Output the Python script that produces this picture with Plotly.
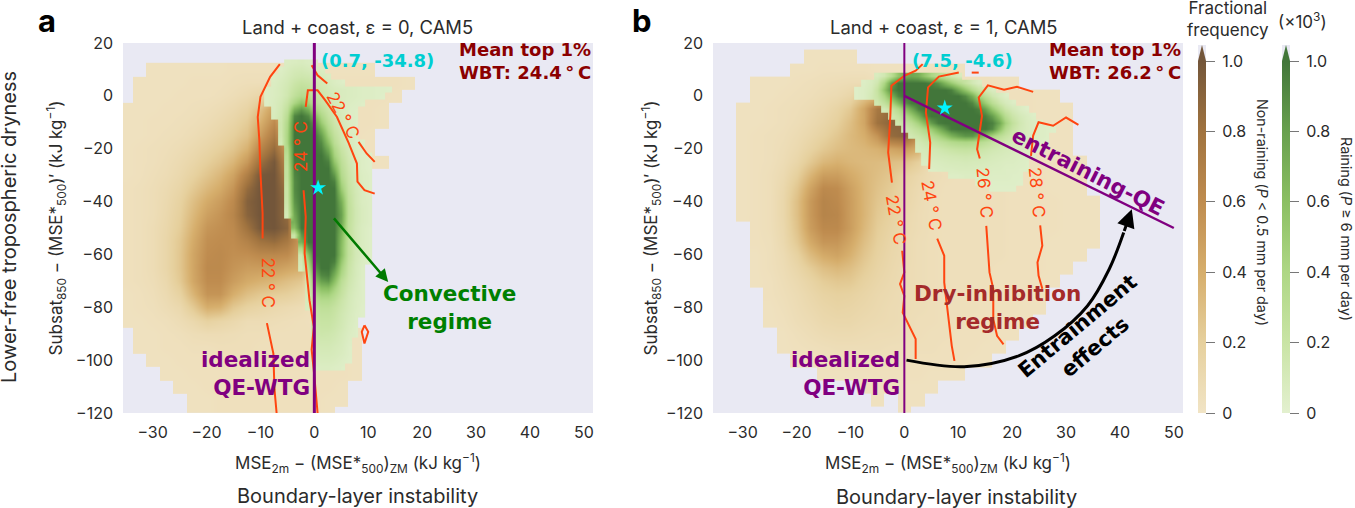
import numpy as np
import plotly.graph_objects as go

W, H = 1355, 508

# frequency, in hundredths of the colour bar unit (0 = no data)
# rows run from the top of the panel down, short rows are blank to the right
X_A = [-35 + 2.5 * i for i in range(22)]
Y_A = [10 - 5 * i for i in range(27)]
X_B = [-35 + 2.5 * i for i in range(30)]
Y_B = [15 - 5 * i for i in range(28)]
X_GREEN_A = [-10 + 1.25 * i for i in range(20)]
Y_GREEN_A = [12.5 - 2.5 * i for i in range(48)]
X_GREEN_B = [-10 + 1.25 * i for i in range(33)]
Y_GREEN_B = [7.5 - 2.5 * i for i in range(18)]

TAN_A = [
    [0, 0, 3, 3, 3, 3, 3, 3, 4, 4, 4, 4, 4, 4, 3, 3, 3, 3, 3],
    [0, 3, 3, 3, 3, 4, 4, 4, 5, 6, 6, 6, 5, 4, 4, 4, 4, 4, 4, 4, 4, 3],
    [0, 3, 3, 3, 4, 4, 4, 5, 7, 10, 14, 20, 5, 4, 4, 4, 4, 4, 4, 4, 3],
    [3, 3, 3, 4, 4, 5, 6, 8, 11, 16, 28, 50, 20, 4, 4, 4, 4, 4, 4, 3],
    [3, 3, 4, 4, 5, 6, 8, 11, 15, 22, 38, 60, 30, 4, 4, 4, 4, 4, 4, 3],
    [3, 3, 4, 5, 6, 8, 11, 15, 20, 28, 50, 72, 40, 4, 4, 4, 4, 4, 3],
    [3, 4, 5, 6, 8, 11, 15, 20, 26, 38, 65, 85, 50, 4, 4, 4, 4, 4, 3],
    [3, 4, 5, 7, 10, 14, 20, 26, 35, 52, 82, 98, 60, 4, 4, 4, 4, 4, 3, 3],
    [3, 4, 6, 8, 12, 18, 26, 34, 46, 70, 98, 100, 70, 4, 4, 4, 4, 4],
    [4, 5, 7, 10, 15, 24, 34, 42, 55, 85, 100, 100, 80, 4, 4, 4, 4],
    [4, 5, 7, 11, 18, 30, 42, 50, 62, 92, 100, 100, 85, 4, 4, 4, 4],
    [4, 5, 7, 12, 20, 34, 48, 55, 65, 90, 100, 100, 85, 4, 4, 4, 4],
    [4, 5, 8, 13, 22, 38, 54, 58, 62, 80, 98, 100, 90, 4, 4, 4, 4],
    [4, 5, 8, 14, 25, 42, 58, 60, 60, 68, 80, 85, 75, 50, 4, 4, 4],
    [4, 5, 8, 14, 26, 45, 60, 62, 58, 58, 62, 62, 60, 45, 4, 4, 4],
    [4, 5, 8, 14, 26, 45, 62, 62, 55, 50, 50, 50, 45, 40, 4, 4, 4],
    [4, 5, 7, 12, 24, 44, 60, 60, 50, 42, 38, 35, 30, 25, 4, 4, 4],
    [3, 4, 6, 10, 18, 36, 55, 55, 40, 30, 25, 22, 20, 15, 4, 4, 4],
    [3, 4, 5, 8, 12, 24, 40, 38, 25, 18, 15, 12, 10, 8, 4, 4, 4],
    [3, 3, 4, 5, 8, 12, 18, 15, 12, 8, 8, 7, 6, 5, 4, 4, 4],
    [0, 3, 3, 4, 5, 7, 8, 8, 7, 6, 6, 5, 5, 5, 5, 5, 4, 3],
    [0, 3, 3, 4, 4, 5, 5, 6, 6, 6, 5, 5, 5, 5, 5, 5, 4, 3],
    [0, 0, 3, 3, 4, 4, 4, 5, 5, 5, 5, 5, 5, 5, 4, 4, 4, 3],
    [0, 0, 0, 3, 3, 4, 4, 4, 4, 4, 4, 4, 4, 4, 4, 4, 4, 3],
    [0, 0, 0, 0, 3, 3, 4, 4, 4, 4, 4, 4, 4, 4, 4, 4, 3],
    [0, 0, 0, 0, 0, 3, 3, 4, 4, 4, 4, 4, 4, 4, 4, 3, 3],
    [0, 0, 0, 0, 0, 3, 3, 4, 4, 4, 4, 4, 4, 4, 4, 3],
]
GREEN_A = [
    [0, 0, 0, 0, 6, 7, 8, 6, 5],
    [0, 0, 0, 5, 8, 11, 12, 10, 8, 6],
    [0, 0, 5, 7, 10, 14, 16, 15, 12, 9, 6],
    [0, 0, 6, 9, 12, 18, 22, 20, 16, 12, 9, 6, 4],
    [0, 5, 7, 10, 14, 22, 28, 26, 20, 15, 11, 9, 8, 7, 6, 5, 5, 4, 4, 3],
    [0, 5, 7, 10, 15, 26, 35, 32, 24, 17, 12, 10, 8, 7, 6, 5, 5, 4, 3],
    [0, 5, 8, 12, 20, 40, 55, 45, 30, 20, 14, 11, 8, 6, 5, 4],
    [0, 0, 8, 14, 26, 70, 85, 70, 45, 28, 18, 12, 8, 5, 4],
    [0, 0, 9, 15, 32, 92, 100, 90, 65, 38, 22, 14, 9, 5, 4],
    [0, 0, 0, 16, 38, 98, 100, 100, 85, 50, 28, 17, 10, 6, 4],
    [0, 0, 0, 16, 40, 100, 100, 100, 95, 65, 35, 20, 12, 6, 4],
    [0, 0, 0, 15, 42, 100, 100, 100, 100, 80, 45, 25, 14, 8, 5],
    [0, 0, 0, 12, 42, 100, 100, 100, 100, 90, 58, 30, 16, 9, 5, 3],
    [0, 0, 0, 0, 35, 100, 100, 100, 100, 95, 72, 38, 20, 11, 6, 4],
    [0, 0, 0, 0, 30, 100, 100, 100, 100, 100, 85, 45, 24, 13, 7, 4, 3],
    [0, 0, 0, 0, 28, 98, 100, 100, 100, 100, 95, 55, 28, 15, 8, 5, 3],
    [0, 0, 0, 0, 25, 95, 100, 100, 100, 100, 100, 70, 32, 17, 9, 5, 3],
    [0, 0, 0, 0, 25, 92, 100, 100, 100, 100, 100, 85, 36, 19, 10, 6, 4],
    [0, 0, 0, 0, 22, 90, 100, 100, 100, 100, 100, 95, 42, 20, 11, 6, 4],
    [0, 0, 0, 0, 20, 90, 100, 100, 100, 100, 100, 100, 50, 22, 12, 7, 4],
    [0, 0, 0, 0, 20, 88, 100, 100, 100, 100, 100, 100, 60, 24, 13, 7, 4],
    [0, 0, 0, 0, 18, 85, 100, 100, 100, 100, 100, 100, 70, 26, 13, 7, 5],
    [0, 0, 0, 0, 15, 80, 100, 100, 100, 100, 100, 100, 75, 27, 14, 8, 5],
    [0, 0, 0, 0, 12, 75, 100, 100, 100, 100, 100, 100, 78, 27, 14, 8, 5],
    [0, 0, 0, 0, 0, 70, 100, 100, 100, 100, 100, 100, 75, 26, 14, 8, 5],
    [0, 0, 0, 0, 0, 60, 100, 100, 100, 100, 100, 100, 70, 25, 13, 7, 4],
    [0, 0, 0, 0, 0, 20, 85, 100, 100, 100, 100, 100, 65, 25, 13, 7, 4],
    [0, 0, 0, 0, 0, 0, 70, 100, 100, 100, 100, 100, 62, 25, 13, 7, 4],
    [0, 0, 0, 0, 0, 0, 40, 85, 100, 100, 100, 100, 60, 25, 12, 7, 4],
    [0, 0, 0, 0, 0, 0, 15, 60, 100, 100, 100, 100, 60, 25, 12, 7, 4],
    [0, 0, 0, 0, 0, 0, 12, 45, 95, 100, 100, 95, 52, 22, 11, 6, 3],
    [0, 0, 0, 0, 0, 0, 10, 35, 85, 100, 100, 85, 45, 20, 10, 5],
    [0, 0, 0, 0, 0, 0, 0, 22, 72, 92, 95, 72, 38, 18, 10, 5],
    [0, 0, 0, 0, 0, 0, 0, 15, 60, 80, 85, 60, 30, 16, 9, 4],
    [0, 0, 0, 0, 0, 0, 0, 12, 45, 60, 62, 45, 25, 14, 8, 4],
    [0, 0, 0, 0, 0, 0, 0, 10, 35, 45, 45, 35, 22, 12, 7, 4],
    [0, 0, 0, 0, 0, 0, 0, 9, 28, 34, 34, 28, 18, 11, 6, 4],
    [0, 0, 0, 0, 0, 0, 0, 8, 22, 27, 27, 22, 16, 10, 6, 3],
    [0, 0, 0, 0, 0, 0, 0, 0, 20, 24, 24, 20, 14, 9, 5, 3],
    [0, 0, 0, 0, 0, 0, 0, 0, 18, 21, 21, 18, 13, 8, 5],
    [0, 0, 0, 0, 0, 0, 0, 0, 16, 19, 19, 16, 12, 7, 4],
    [0, 0, 0, 0, 0, 0, 0, 0, 15, 17, 16, 14, 10, 6, 4],
    [0, 0, 0, 0, 0, 0, 0, 0, 13, 14, 14, 12, 9, 5],
    [0, 0, 0, 0, 0, 0, 0, 0, 11, 12, 12, 10, 8, 4],
    [0, 0, 0, 0, 0, 0, 0, 0, 9, 10, 10, 9, 7, 4],
    [0, 0, 0, 0, 0, 0, 0, 0, 7, 8, 8, 7, 5, 3],
    [0, 0, 0, 0, 0, 0, 0, 0, 5, 6, 6, 5, 4],
    [],
]
TAN_B = [
    [0, 0, 0, 0, 0, 0, 0, 3, 3, 3, 3],
    [0, 0, 0, 0, 0, 0, 3, 3, 4, 4, 4, 4, 3, 3, 3, 3, 3, 3, 3],
    [0, 0, 0, 3, 3, 3, 4, 5, 6, 7, 8, 8, 5, 4, 4, 4, 4, 4, 4, 4, 4, 3, 3],
    [0, 0, 0, 3, 3, 4, 5, 6, 8, 10, 14, 25, 30, 4, 4, 4, 4, 4, 4, 4, 4, 4, 4, 4, 3, 3],
    [0, 0, 3, 3, 4, 5, 6, 8, 11, 16, 24, 45, 75, 85, 4, 4, 4, 4, 4, 4, 4, 4, 4, 4, 3, 3, 3],
    [0, 0, 3, 3, 4, 5, 7, 10, 14, 20, 30, 45, 80, 90, 90, 4, 4, 4, 4, 4, 4, 4, 4, 4, 3, 3, 3],
    [0, 0, 3, 4, 5, 6, 9, 13, 18, 25, 33, 40, 55, 85, 90, 60, 4, 4, 4, 4, 4, 4, 4, 4, 3, 3, 3],
    [0, 0, 3, 4, 5, 7, 11, 17, 24, 30, 33, 35, 38, 45, 50, 40, 4, 4, 4, 4, 4, 4, 4, 4, 3, 3, 3],
    [0, 0, 3, 4, 5, 8, 14, 24, 34, 38, 35, 33, 32, 30, 28, 20, 6, 5, 5, 5, 5, 4, 4, 4, 4, 3, 3, 3],
    [0, 0, 3, 4, 6, 10, 20, 36, 50, 50, 42, 35, 30, 25, 18, 12, 8, 6, 5, 5, 5, 4, 4, 4, 4, 3, 3, 3],
    [0, 0, 3, 4, 6, 12, 26, 46, 62, 60, 48, 36, 28, 22, 15, 10, 7, 5, 5, 5, 5, 5, 4, 4, 4, 3, 3, 3],
    [0, 0, 3, 4, 6, 13, 30, 52, 66, 62, 50, 36, 26, 20, 14, 9, 6, 5, 5, 5, 5, 5, 4, 4, 4, 4, 3, 3, 3],
    [0, 0, 3, 4, 6, 13, 30, 52, 66, 64, 50, 36, 24, 18, 12, 8, 6, 5, 5, 5, 5, 5, 4, 4, 4, 4, 3, 3, 3],
    [0, 0, 0, 4, 6, 12, 28, 50, 62, 62, 50, 34, 22, 16, 11, 8, 6, 5, 5, 5, 5, 5, 4, 4, 4, 4, 3, 3, 3],
    [0, 0, 0, 4, 5, 11, 24, 42, 54, 54, 44, 30, 20, 14, 10, 7, 6, 5, 5, 5, 5, 5, 4, 4, 4, 3, 3, 3, 3],
    [0, 0, 0, 3, 5, 9, 18, 32, 42, 46, 38, 26, 18, 13, 10, 7, 6, 5, 5, 5, 5, 5, 4, 4, 4, 3, 3, 3],
    [0, 0, 0, 3, 5, 8, 14, 22, 30, 34, 30, 22, 16, 12, 9, 7, 6, 5, 5, 5, 5, 4, 4, 4, 4, 3, 3],
    [0, 0, 0, 3, 4, 7, 11, 16, 22, 25, 24, 18, 14, 11, 9, 7, 6, 5, 5, 5, 5, 4, 4, 4, 3, 3],
    [0, 0, 0, 0, 4, 6, 9, 13, 17, 19, 18, 15, 12, 10, 8, 7, 6, 5, 5, 5, 4, 4, 4, 3, 3],
    [0, 0, 0, 0, 3, 5, 8, 11, 14, 16, 15, 13, 11, 9, 8, 7, 6, 5, 5, 5, 4, 4, 4, 3, 3],
    [0, 0, 0, 0, 3, 4, 7, 9, 12, 13, 13, 11, 10, 9, 8, 6, 6, 5, 5, 4, 4, 4, 3, 3],
    [0, 0, 0, 0, 0, 3, 5, 7, 9, 10, 10, 9, 8, 8, 7, 6, 5, 5, 4, 4, 4, 3, 3],
    [0, 0, 0, 0, 0, 3, 4, 5, 6, 7, 7, 7, 7, 6, 6, 5, 5, 4, 4, 4, 3, 3],
    [0, 0, 0, 0, 0, 0, 3, 3, 4, 5, 5, 5, 5, 5, 5, 4, 4, 4, 4, 3, 3],
    [0, 0, 0, 0, 0, 0, 0, 0, 3, 3, 3, 3, 4, 4, 4, 4, 3, 3, 3],
    [0, 0, 0, 0, 0, 0, 0, 0, 0, 0, 0, 3, 3, 3, 3, 3, 3],
    [0, 0, 0, 0, 0, 0, 0, 0, 0, 0, 0, 0, 3, 0, 3, 3],
    [0, 0, 0, 0, 0, 0, 0, 0, 0, 0, 0, 0, 0, 0, 3],
]
GREEN_B = [
    [0, 0, 0, 0, 8, 14, 30, 55, 70, 75, 70, 55, 40, 30, 22, 14, 8],
    [0, 0, 5, 8, 15, 40, 80, 100, 100, 100, 100, 100, 95, 85, 65, 50, 35, 22, 12, 6],
    [0, 4, 6, 10, 22, 55, 90, 100, 100, 100, 100, 100, 100, 100, 100, 95, 75, 55, 35, 22, 13, 7],
    [0, 4, 6, 12, 20, 40, 70, 92, 100, 100, 100, 100, 100, 100, 100, 100, 100, 90, 70, 45, 28, 15, 8, 4],
    [0, 0, 0, 0, 15, 25, 42, 65, 85, 98, 100, 100, 100, 100, 100, 100, 100, 100, 92, 72, 50, 30, 17, 10, 5],
    [0, 0, 0, 0, 0, 12, 20, 35, 55, 75, 95, 100, 100, 100, 100, 100, 100, 100, 100, 95, 78, 52, 32, 18, 11, 6, 3],
    [0, 0, 0, 0, 0, 0, 14, 22, 35, 50, 70, 90, 100, 100, 100, 100, 100, 100, 100, 100, 95, 80, 55, 32, 18, 11, 7, 4],
    [0, 0, 0, 0, 0, 0, 0, 15, 22, 30, 45, 62, 82, 97, 100, 100, 100, 100, 100, 100, 100, 95, 75, 45, 25, 14, 8, 6, 4],
    [0, 0, 0, 0, 0, 0, 0, 0, 14, 20, 28, 38, 50, 68, 85, 98, 100, 100, 100, 100, 100, 90, 60, 35, 20, 12, 8, 6, 5, 4, 3],
    [0, 0, 0, 0, 0, 0, 0, 0, 0, 14, 18, 24, 32, 42, 55, 68, 78, 85, 85, 72, 58, 42, 30, 22, 15, 10, 8, 6, 5, 4],
    [0, 0, 0, 0, 0, 0, 0, 0, 0, 0, 12, 16, 20, 25, 30, 35, 38, 40, 38, 34, 28, 22, 17, 14, 11, 9, 7, 6, 4, 3],
    [0, 0, 0, 0, 0, 0, 0, 0, 0, 0, 9, 11, 13, 15, 18, 20, 22, 23, 22, 20, 17, 14, 12, 10, 9, 7, 6, 5, 4],
    [0, 0, 0, 0, 0, 0, 0, 0, 0, 0, 0, 9, 10, 11, 12, 13, 14, 15, 14, 13, 12, 10, 9, 8, 7, 6, 5, 4],
    [0, 0, 0, 0, 0, 0, 0, 0, 0, 0, 0, 6, 7, 8, 9, 10, 10, 11, 10, 10, 9, 8, 7, 6, 6, 5, 4],
    [0, 0, 0, 0, 0, 0, 0, 0, 0, 0, 0, 0, 5, 6, 7, 7, 8, 8, 8, 7, 7, 6, 6, 5, 5, 4, 4],
    [0, 0, 0, 0, 0, 0, 0, 0, 0, 0, 0, 0, 0, 0, 0, 5, 5, 6, 6, 6, 6, 5, 5, 5, 4, 4],
    [0, 0, 0, 0, 0, 0, 0, 0, 0, 0, 0, 0, 0, 0, 0, 0, 0, 0, 0, 4, 4, 4, 4, 4, 4, 3],
    [0, 0, 0, 0, 0, 0, 0, 0, 0, 0, 0, 0, 0, 0, 0, 0, 0, 0, 0, 0, 0, 3, 3, 3, 3],
]

# wet-bulb contours, (x, y) pairs per piece
CONTOURS_A = [
    ([-6.4, -8.2, -10, -10.5, -10.2, -10, -9.6, -9.6], [12, 7.2, -0.4, -8, -16.8, -29, -44.5, -54]),
    ([-8.8, -7.6, -7.4, -7], [-86, -97.5, -111, -120]),
    ([-0.5, 0.6, 2.4], [11.6, 7.8, 4.7]),
    ([-1.6, -1.2, 0.6, 2, 4.2, 6.4, 7.9, 8, 9.3, 11.2], [-4.2, 2.1, 2.1, -1.6, -8, -18, -25.6, -32.5, -35.7, -37]),
    ([8.2, 9.7, 11.2], [-17.4, -21.8, -25]),
    ([-2, -1.6, -1.8, -0.9, -0.1, -0.5, 0, 0.6], [-35.7, -45.8, -59.6, -77.3, -87.4, -96, -106, -120]),
    ([9.3, 10, 9.3, 8.8, 9.3], [-86.8, -89.3, -93.7, -89.3, -86.8]),
]
CONTOURS_B = [
    ([3.4, 2.1, 0, -2.4, -2.6, -3, -2.3], [12, 9.5, 7.6, 3.8, -7.6, -21.4, -32.8]),
    ([-0.4, 0, -0.8, 0, -0.3, 0.7, 2.1, 2.1], [-58.6, -66.8, -71.2, -75.7, -82, -86.4, -92, -99.6]),
    ([10.1, 6.4, 4.4, 4, 4.8, 4.6], [8.8, 7.3, 3.2, -6.3, -17.7, -27.7]),
    ([12.5, 13.8], [8.8, 8.8]),
    ([6.1, 7.4, 7.4, 8.1, 8.8, 9.3], [-54, -60.5, -70.6, -83.2, -94.6, -100.3]),
    ([23.9, 20.9, 18.5, 15.5, 13.8, 14.4, 13.5, 14], [1.5, 3.4, 2.3, 4, -0.6, -7.6, -20.2, -23.7]),
    ([15.2, 15.7, 15.8, 16.5, 16.5, 17.2, 18.4], [-49.2, -61.8, -66.8, -73, -84.5, -90.8, -94]),
    ([32.3, 30, 27.6, 24.9, 23.9, 23.5], [-11, -8.2, -11.3, -10, -15, -22.7]),
    ([25.2, 25.6, 24.7, 24.9, 25.6], [-49, -56.7, -63, -68, -73]),
]
ARC_X = [0.4, 11.1, 21.2, 27.9, 34, 38, 40.7]
ARC_Y = [-100, -102.5, -98.4, -90.8, -79.4, -65.6, -51.7]

TICKS_X = [-30, -20, -10, 0, 10, 20, 30, 40, 50]
TICKS_Y = [20, 0, -20, -40, -60, -80, -100, -120]
CBAR_TICKS = [0, 0.2, 0.4, 0.6, 0.8, 1.0]
CBAR_TEXT = ["0", "0.2", "0.4", "0.6", "0.8", "1.0"]

TAN_SCALE = [[0, "#f1e4c5"], [0.2, "#e6d09d"], [0.4, "#d6ae6c"], [0.6, "#bf8c4f"], [0.8, "#a0733f"], [1, "#73563a"]]
GREEN_SCALE = [[0, "#e3f0cf"], [0.2, "#c9e4a5"], [0.4, "#aed785"], [0.6, "#8bbf63"], [0.8, "#68a04e"], [1, "#42763a"]]

FONT = "Inter, Noto Sans, sans-serif"
BOLD = "DejaVu Sans, sans-serif"
TEXT = "#2b2b2b"
RED = "#ff4510"
PURPLE = "#800080"


def grid(rows, n_cols):
    z = np.array([r + [0] * (n_cols - len(r)) for r in rows], dtype=float)
    return np.where(z == 0, np.nan, z / 100)


def colorbar(left, label_pad=" "):
    return dict(
        x=left / W, xanchor="left", thickness=8, thicknessmode="pixels",
        len=352, lenmode="pixels", y=(H - 413) / H, yanchor="bottom", ypad=0, xpad=0,
        outlinewidth=0, ticks="outside", ticklen=9, tickwidth=1, tickcolor="#777777",
        tickvals=CBAR_TICKS, ticktext=[label_pad + t for t in CBAR_TEXT],
        tickfont=dict(family=FONT, size=16, color=TEXT),
    )


fig = go.Figure()

panels = [
    ("x", "y", X_A, Y_A, TAN_A, X_GREEN_A, Y_GREEN_A, GREEN_A, CONTOURS_A, 0.7, -34.8, 3),
    ("x2", "y2", X_B, Y_B, TAN_B, X_GREEN_B, Y_GREEN_B, GREEN_B, CONTOURS_B, 7.5, -4.6, 2),
]
for n, (xa, ya, xs, ys, tan, gx, gy, green, contours, star_x, star_y, qe_width) in enumerate(panels):
    fig.add_trace(go.Heatmap(
        x=xs, y=ys, z=grid(tan, len(xs)), xaxis=xa, yaxis=ya, zmin=0, zmax=1, zsmooth="best",
        colorscale=TAN_SCALE, showscale=n == 0, colorbar=colorbar(1198), hoverinfo="skip",
    ))
    fig.add_trace(go.Heatmap(
        x=gx, y=gy, z=grid(green, len(gx)), xaxis=xa, yaxis=ya, zmin=0, zmax=1, zsmooth="best",
        colorscale=GREEN_SCALE, showscale=n == 0, colorbar=colorbar(1282), hoverinfo="skip",
    ))
    for cx, cy in contours:
        fig.add_trace(go.Scatter(
            x=cx, y=cy, xaxis=xa, yaxis=ya, mode="lines",
            line=dict(color=RED, width=2), showlegend=False, hoverinfo="skip",
        ))
    fig.add_trace(go.Scatter(
        x=[0, 0], y=[-120, 20], xaxis=xa, yaxis=ya, mode="lines",
        line=dict(color=PURPLE, width=qe_width), showlegend=False, hoverinfo="skip",
    ))
    if n == 1:
        fig.add_trace(go.Scatter(
            x=[0, 50], y=[0, -50], xaxis=xa, yaxis=ya, mode="lines",
            line=dict(color=PURPLE, width=2.5), showlegend=False, hoverinfo="skip",
        ))
        fig.add_trace(go.Scatter(
            x=ARC_X, y=ARC_Y, xaxis=xa, yaxis=ya, mode="lines",
            line=dict(color="black", width=3, shape="spline"), showlegend=False, hoverinfo="skip",
        ))
    fig.add_trace(go.Scatter(
        x=[star_x], y=[star_y], xaxis=xa, yaxis=ya, mode="markers",
        marker=dict(symbol="star", size=12, color="#00f5ff"), showlegend=False, hoverinfo="skip",
    ))


def note(text, x, y, xref="x", yref="y", size=15, color=TEXT, family=FONT, angle=0, xanchor="center", **kw):
    fig.add_annotation(
        text=text, x=x, y=y, xref=xref, yref=yref, showarrow=False, textangle=angle, xanchor=xanchor,
        yanchor="middle", font=dict(family=family, size=size, color=color), **kw,
    )


def paper(text, px, py, **kw):
    note(text, px / W, 1 - py / H, xref="paper", yref="paper", **kw)


def degree_label(value):
    return f"{value} ° C"


# panel a text
note("<b>(0.7, -34.8)</b>", 11.7, 13.2, size=18, color="#00ced1", family=BOLD)
note("<b>Mean top 1%<br>WBT: 24.4\u2009°\u2009C</b>", 39, 13.3, size=18, color="#8b0000", family=BOLD)
note("<b>Convective<br>regime</b>", 25, -80, size=21.5, color="#008000", family=BOLD)
note("<b>idealized<br>QE-WTG</b>", -0.4, -105, size=21.5, color=PURPLE, family=BOLD, align="right", xanchor="right")
note(degree_label(22), -8.5, -70.4, size=17, color=RED, angle=90)
note(degree_label(24), -2.5, -19, size=17, color=RED, angle=-90)
note(degree_label(22), 5.3, -7.3, size=17, color=RED, angle=62)
fig.add_annotation(
    x=13.7, y=-70.4, ax=3.4, ay=-45.8, xref="x", yref="y", axref="x", ayref="y", text="",
    showarrow=True, arrowhead=2, arrowsize=1, arrowwidth=2.5, arrowcolor="#007a00",
)

# panel b text
note("<b>(7.5, -4.6)</b>", 10.8, 13.2, xref="x2", yref="y2", size=18, color="#00ced1", family=BOLD)
note("<b>Mean top 1%<br>WBT: 26.2\u2009°\u2009C</b>", 39.1, 13.3, xref="x2", yref="y2", size=18, color="#8b0000", family=BOLD)
note("<b>Dry-inhibition<br>regime</b>", 17.3, -80, xref="x2", yref="y2", size=21.5, color="#a52a2a", family=BOLD)
note("<b>idealized<br>QE-WTG</b>", -0.4, -105, xref="x2", yref="y2", size=21.5, color=PURPLE, family=BOLD, align="right", xanchor="right")
note("<b>entraining-QE</b>", 34, -28.8, xref="x2", yref="y2", size=21.5, color=PURPLE, family=BOLD, angle=27)
note("<b>Entrainment<br>effects</b>", 33.8, -91.2, xref="x2", yref="y2", size=21, color="black", family=BOLD, angle=-40)
note(degree_label(22), -1.6, -46.7, xref="x2", yref="y2", size=17, color=RED, angle=80)
note(degree_label(24), 5.1, -41.6, xref="x2", yref="y2", size=17, color=RED, angle=80)
note(degree_label(26), 15, -36.6, xref="x2", yref="y2", size=17, color=RED, angle=85)
note(degree_label(28), 24.7, -36.6, xref="x2", yref="y2", size=17, color=RED, angle=85)
fig.add_annotation(
    x=42.2, y=-42.9, ax=40.7, ay=-51.7, xref="x2", yref="y2", axref="x2", ayref="y2", text="",
    showarrow=True, arrowhead=2, arrowsize=1.2, arrowwidth=3, arrowcolor="black",
)

# titles and outer labels
paper("<b>a</b>", 47, 20.5, size=31, color="black", family="Inter")
paper("<b>b</b>", 642, 20.5, size=31, color="black", family="Inter")
paper("Land + coast, ε = 0, CAM5", 357, 27, size=18.4)
paper("Land + coast, ε = 1, CAM5", 944, 27, size=18.4)
paper("Boundary-layer instability", 357, 496, size=20)
paper("Boundary-layer instability", 956, 497, size=20)
paper("Lower-free tropospheric dryness", 9, 227, size=20, angle=-90)
paper("Fractional<br>frequency", 1228, 19, size=17)
paper("(×10<sup>3</sup>)", 1302, 20, size=17)
paper("Non-raining (<i>P</i> &lt; 0.5 mm per day)", 1262, 212, size=14.3, angle=90)
paper("Raining (<i>P</i> ≥ 6 mm per day)", 1346, 229, size=14.3, angle=90)

# arrow tips and lavender corners on the colour bars
shapes = []
for left, colour in [(1198, "#73563a"), (1282, "#42763a")]:
    x0, x1 = left / W, (left + 8) / W
    y_base, y_top = 1 - 61 / H, 1 - 45 / H
    shapes.append(dict(type="rect", xref="paper", yref="paper", x0=x0, x1=x1, y0=y_base, y1=y_top,
                       fillcolor="#e9e9f3", line_width=0))
    shapes.append(dict(type="path", xref="paper", yref="paper",
                       path=f"M {x0} {y_base} L {(x0 + x1) / 2} {y_top} L {x1} {y_base} Z",
                       fillcolor=colour, line_width=0))


def x_axis(left, right, anchor):
    return dict(
        domain=[left / W, right / W], range=[-35.5, 51.7], anchor=anchor, showgrid=False, zeroline=False,
        tickvals=TICKS_X, ticktext=[str(t).replace("-", "−") for t in TICKS_X], ticks="",
        tickfont=dict(family=FONT, size=16, color=TEXT), ticklabelstandoff=8, showline=False,
        title=dict(text="MSE<sub>2m</sub> − (MSE*<sub>500</sub>)<sub>ZM</sub> (kJ kg<sup>−1</sup>)",
                   font=dict(family=FONT, size=17, color=TEXT), standoff=16),
    )


def y_axis(anchor, standoff):
    return dict(
        domain=[(H - 413) / H, (H - 43) / H], range=[-120, 20], anchor=anchor, showgrid=False, zeroline=False,
        tickvals=TICKS_Y, ticktext=[str(t).replace("-", "−") for t in TICKS_Y], ticks="",
        tickfont=dict(family=FONT, size=16, color=TEXT), ticklabelstandoff=9, showline=False,
        title=dict(text="Subsat<sub>850</sub> − (MSE*<sub>500</sub>)′ (kJ kg<sup>−1</sup>)",
                   font=dict(family=FONT, size=17, color=TEXT), standoff=standoff),
    )


fig.update_layout(
    width=W, height=H, margin=dict(l=0, r=0, t=0, b=0, autoexpand=False), showlegend=False,
    paper_bgcolor="white", plot_bgcolor="#e9e9f3", shapes=shapes,
    xaxis=x_axis(123, 593, "y"), yaxis=y_axis("x", 8),
    xaxis2=x_axis(713, 1183, "y2"), yaxis2=y_axis("x2", 3),
)

fig.write_html("out.html", config=dict(displayModeBar=False), post_script="document.body.style.margin='0';")
